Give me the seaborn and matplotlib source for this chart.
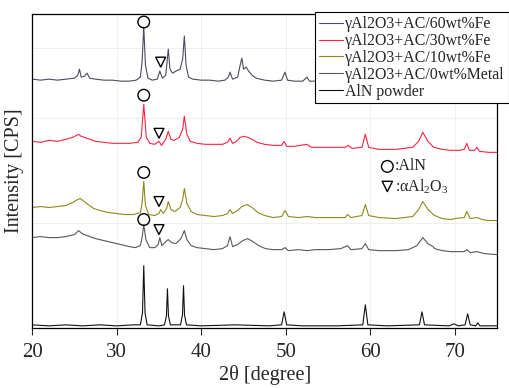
import matplotlib
matplotlib.use('Agg')
import matplotlib.pyplot as plt
import pandas as pd
import seaborn as sns

# XRD patterns (2theta in degree, intensity in arbitrary offset units)
fe60_x = [20, 21, 22, 23, 24, 25, 25.4, 25.6, 25.8, 26.2, 26.5, 26.8, 27.5, 28.5, 29.5,
          30.5, 31.5, 32.3, 32.8, 33.0, 33.2, 33.4, 33.7, 34.2, 34.8, 35.1, 35.4, 35.8,
          36.1, 36.3, 36.6, 37.0, 37.5, 37.8, 38.0, 38.2, 38.5, 39.0, 40, 41, 42, 42.8,
          43.2, 43.4, 43.7, 44.3, 44.6, 44.8, 45.0, 45.3, 45.6, 46.0, 46.5, 47.5, 48.5,
          49.5, 49.9, 50.2, 51, 52, 52.5, 52.8, 54, 56, 57.3, 58, 59.4, 60, 62, 66.2,
          68, 71.4, 73, 75]
fe60_y = [248, 247, 248, 247, 248, 249, 252, 258, 250, 251, 254, 249, 248, 247, 247,
          246, 246, 247, 250, 265, 300, 262, 249, 247, 248, 256, 249, 252,
          278, 258, 254, 256, 258, 268, 291, 262, 250, 248, 247, 247, 246, 247,
          250, 255, 248, 250, 262, 269, 258, 260, 256, 252, 249, 247, 246,
          247, 255, 247, 246, 246, 250, 246, 246, 245, 248, 246, 252, 246, 246, 255,
          246, 250, 246, 245]

fe30_x = [20, 21, 22, 23, 24, 24.8, 25.5, 25.8, 26.5, 27.5, 28.5, 29.5, 30.5, 31.5,
          32.5, 32.9, 33.2, 33.5, 33.9, 34.5, 35.0, 35.3, 35.8, 36.1, 36.4, 36.8, 37.4,
          37.8, 38.0, 38.3, 38.7, 39.5, 40.5, 41.5, 42.5, 43.1, 43.4, 43.7, 44.2, 44.6,
          45.0, 45.5, 46.0, 46.6, 47.5, 48.5, 49.5, 49.8, 50.1, 51, 52.5, 53, 55, 57.0,
          57.4, 57.8, 59.0, 59.4, 59.8, 61, 63, 65.0, 65.7, 66.2, 66.8, 67.5, 68.5,
          69.5, 70.5, 71.1, 71.4, 71.7, 72.3, 72.6, 72.9, 74, 75]
fe30_y = [186, 185, 187, 186, 188, 190, 193, 191, 189, 186, 185, 184, 184, 184,
          185, 190, 223, 190, 184, 183, 186, 182, 188, 196, 188, 187, 190,
          198, 211, 193, 186, 184, 183, 183, 183, 185, 189, 184, 186, 190,
          191, 190, 188, 185, 183, 182, 182, 186, 181, 181, 183, 180, 180, 180,
          182, 179, 180, 193, 180, 178, 178, 180, 186, 195, 186, 180, 178,
          177, 177, 178, 184, 177, 177, 180, 176, 175, 175]

fe10_x = [20, 21, 22, 23, 24, 24.8, 25.4, 25.7, 26.0, 26.6, 27.3, 28, 29, 30, 31, 32,
          32.8, 33.0, 33.2, 33.4, 33.8, 34.5, 35.0, 35.2, 35.5, 35.9, 36.1, 36.4, 36.9,
          37.5, 37.8, 38.0, 38.3, 38.8, 39.5, 40.5, 41.5, 42.5, 43.1, 43.4, 43.7, 44.3,
          44.8, 45.4, 46.0, 46.7, 47.5, 48.5, 49.5, 49.9, 50.3, 51.5, 52.5, 53.5, 55,
          57.0, 57.3, 57.7, 59.0, 59.4, 59.8, 61, 63, 65, 65.7, 66.2, 66.8, 67.6, 68.5,
          69.5, 70, 71.1, 71.4, 71.8, 72.6, 73.2, 74, 75]
fe10_y = [120, 121, 120, 121, 122, 125, 128, 129, 127, 123, 119, 117, 115, 114, 113, 113,
          115, 124, 146, 122, 113, 112, 114, 118, 114, 119, 126, 118, 116,
          120, 128, 139, 124, 116, 113, 112, 111, 112, 114, 118, 114, 117,
          121, 123, 120, 115, 112, 110, 111, 117, 111, 110, 111, 110, 110,
          110, 113, 110, 112, 123, 112, 110, 109, 111, 118, 126, 118, 112, 109,
          108, 109, 110, 116, 109, 110, 108, 107, 107]

m0_x = [20, 21, 22, 23, 24, 25.0, 25.5, 25.9, 26.5, 27.5, 28.5, 29.5, 30.5, 31.5, 32.2,
        32.8, 33.0, 33.2, 33.45, 33.9, 34.5, 34.9, 35.1, 35.35, 35.8, 36.1, 36.5, 37.0,
        37.6, 38.0, 38.3, 38.8, 39.5, 40.5, 41.5, 42.5, 43.1, 43.4, 43.7, 44.3, 44.9,
        45.5, 46.1, 46.8, 47.6, 48.5, 49.5, 49.9, 50.3, 51.5, 52.5, 53.5, 55, 56.5,
        57.3, 57.7, 59.0, 59.4, 59.8, 61, 63, 64.5, 65.5, 66.2, 66.8, 67.4, 67.6, 68.5,
        69.5, 71.1, 71.4, 71.8, 72.6, 73.5, 75]
m0_y = [90, 91, 90, 90, 91, 93, 97, 94, 92, 89, 87, 85, 83, 81, 80,
        82, 90, 103, 88, 80, 80, 83, 90, 82, 86, 88, 85, 84,
        89, 97, 88, 82, 80, 79, 78, 79, 82, 91, 81, 83, 87,
        89, 86, 82, 79, 78, 78, 80, 77, 78, 77, 78, 78, 79,
        82, 78, 79, 84, 78, 77, 77, 78, 82, 90, 84, 81, 79, 77,
        76, 76, 78, 75, 76, 74, 73]

aln_x = [20, 22, 24, 26, 28, 30, 32, 32.8, 33.05, 33.2, 33.35, 33.6, 35.0, 35.65, 35.88,
         36.0, 36.12, 36.35, 37.55, 37.78, 37.9, 38.02, 38.25, 40, 44, 48, 49.5, 49.8,
         50.1, 52, 56, 59.1, 59.4, 59.7, 62, 65.8, 66.1, 66.4, 69.3, 69.9, 70.4,
         71.2, 71.5, 71.8, 72.45, 72.7, 72.95, 74, 75]
aln_y = [3, 2, 3, 2, 3, 2, 3, 3, 15, 62, 15, 3, 2, 3, 12,
         39, 12, 3, 3, 13, 42, 13, 3, 2, 3, 2, 3, 16,
         3, 2, 2, 3, 23, 3, 2, 3, 16, 3, 2, 4, 2,
         3, 14, 3, 2, 5, 2, 2, 2]

labels = ['γAl2O3+AC/60wt%Fe', 'γAl2O3+AC/30wt%Fe', 'γAl2O3+AC/10wt%Fe',
          'γAl2O3+AC/0wt%Metal', 'AlN powder']
colors = ['#4b4b5c', '#ff2244', '#8a8a1c', '#555a55', '#111111']

# AlN (circle) and alpha-Al2O3 (triangle) markers
aln_mark_x = [33.2, 33.2, 33.2, 33.2]
aln_mark_y = [305, 232, 155, 108]
al2o3_mark_x = [35.2, 35.0, 35.0, 35.0]
al2o3_mark_y = [265, 194, 126, 98]

series = [(fe60_x, fe60_y), (fe30_x, fe30_y), (fe10_x, fe10_y), (m0_x, m0_y), (aln_x, aln_y)]
frames = []
for lab, (xs, ys) in zip(labels, series):
    frames.append(pd.DataFrame({'x': xs, 'y': ys, 'sample': lab}))
df = pd.concat(frames, ignore_index=True)

sns.set_style('white')
plt.rcParams['font.family'] = ['Liberation Serif', 'DejaVu Serif']
plt.rcParams['mathtext.fontset'] = 'custom'
plt.rcParams['mathtext.rm'] = 'Liberation Serif'
plt.rcParams['mathtext.it'] = 'Liberation Serif:italic'

fig = plt.figure(figsize=(5.1, 3.88), dpi=100)
ax = fig.add_axes([0.063, 0.155, 0.912, 0.809])

sns.lineplot(data=df, x='x', y='y', hue='sample', palette=dict(zip(labels, colors)),
             estimator=None, sort=False, linewidth=0.8, ax=ax, legend=True)

ax.scatter(aln_mark_x, aln_mark_y, s=70, marker='o', facecolors='none',
           edgecolors='black', linewidths=1.0, zorder=5)
ax.scatter(al2o3_mark_x, al2o3_mark_y, s=50, marker='v', facecolors='none',
           edgecolors='black', linewidths=1.0, zorder=5)

# key for the markers
ax.scatter([62.0], [161], s=70, marker='o', facecolors='none', edgecolors='black', linewidths=1.0)
ax.scatter([62.0], [141], s=55, marker='v', facecolors='none', edgecolors='black', linewidths=1.0)
ax.text(62.9, 161, ':AlN', fontsize=11.5, va='center', ha='left')
ax.text(62.9, 141, r':αAl$_2$O$_3$', fontsize=11.5, va='center', ha='left')

ax.set_xlim(20, 75)
ax.set_ylim(0, 313)
ax.set_xticks([20, 30, 40, 50, 60, 70])
ax.set_yticks([105, 209, 279])
ax.set_yticklabels([])
ax.tick_params(axis='y', length=0)
ax.tick_params(axis='x', direction='out', length=5, width=0.8, labelsize=15, pad=6, bottom=True)
ax.grid(True, color='#ececec', linewidth=0.6)
for sp in ax.spines.values():
    sp.set_color('black')
    sp.set_linewidth(0.9)

ax.set_xlabel('2θ [degree]', fontsize=14.5, labelpad=2)
ax.set_ylabel('Intensity [CPS]', fontsize=14.5, labelpad=2)

handles, _ = ax.get_legend_handles_labels()
ax.get_legend().remove()
leg = fig.legend(handles, labels, loc='upper left', bbox_to_anchor=(0.618, 0.968),
                 fontsize=11.4, frameon=True, fancybox=False, framealpha=1,
                 edgecolor='black', handlelength=1.5, handletextpad=0.15,
                 labelspacing=0.05, borderpad=0.25, borderaxespad=0)
leg.get_frame().set_linewidth(0.8)
for h in leg.get_lines():
    h.set_linewidth(0.8)

fig.savefig('out.png', dpi=100)
